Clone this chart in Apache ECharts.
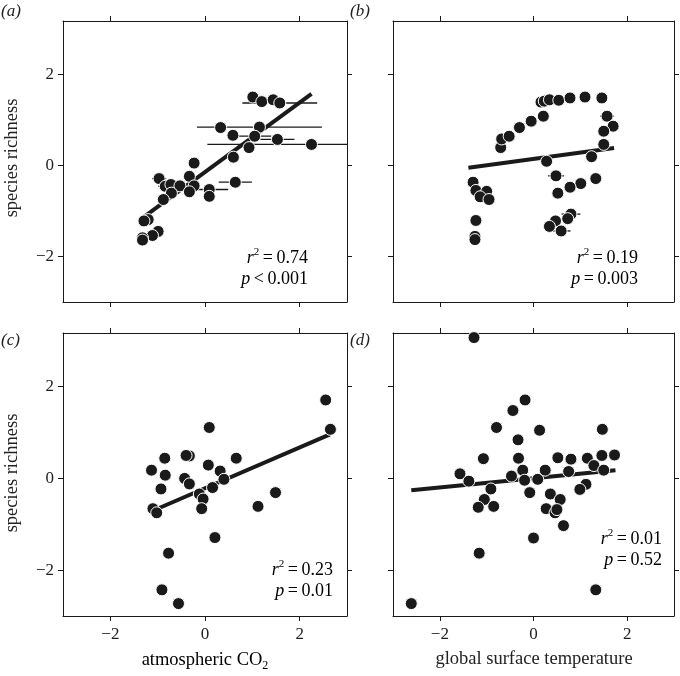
<!DOCTYPE html>
<html>
<head>
<meta charset="utf-8">
<script src="https://cdn.jsdelivr.net/npm/echarts@6/dist/echarts.min.js"></script>
<style>
  html, body { margin: 0; padding: 0; background: #fff; }
  #main { width: 680px; height: 676px; }
</style>
</head>
<body>
<div id="main"></div>
<script>
// (a) species richness vs atmospheric CO2 (with horizontal error bars)
var aX = [1.01, 1.20, 1.44, 1.58, 0.33, 1.15, 0.59, 1.05, 1.53, 2.25, 0.93, 0.60, -0.23, -0.97, -0.33, -0.84,
  -0.72, -0.53, -0.23, -0.71, -0.33, 0.09, 0.09, 0.64, -0.88, -1.20, -1.29, -0.99, -1.11, -1.32, -1.32];
var aY = [1.50, 1.40, 1.44, 1.37, 0.83, 0.84, 0.66, 0.64, 0.57, 0.46, 0.39, 0.18, 0.05, -0.29, -0.24, -0.46,
  -0.42, -0.45, -0.45, -0.61, -0.58, -0.53, -0.68, -0.37, -0.75, -1.19, -1.22, -1.45, -1.54, -1.59, -1.64];
var aErr = [0, 0, 0, 0.79, 0, 1.32, 0, 0.35, 0.36, 2.2, 0, 0, 0, 0.15, 0, 0.15,
  0, 0, 0.12, 0.12, 0, 0.4, 0, 0.35, 0.12, 0, 0, 0, 0, 0, 0];

// (b) species richness vs global surface temperature (with error bars)
var bX = [-0.70, -0.68, -0.52, -0.30, -0.05, 0.21, 0.16, 0.23, 0.34, 0.54, 0.78, 1.10, 1.46, 1.57, 1.70, 1.50,
  1.50, 1.24, 0.28, 0.48, 1.33, 1.01, 0.78, 0.52, -1.29, -1.23, -1.00, -1.14, -0.95, -1.23, -1.25, -1.25,
  0.80, 0.73, 0.47, 0.34, 0.59];
var bY = [0.39, 0.58, 0.64, 0.83, 0.97, 1.08, 1.39, 1.41, 1.44, 1.43, 1.48, 1.50, 1.48, 1.08, 0.86, 0.75,
  0.46, 0.19, 0.09, -0.23, -0.29, -0.40, -0.48, -0.61, -0.37, -0.55, -0.57, -0.69, -0.75, -1.21, -1.56, -1.63,
  -1.07, -1.17, -1.22, -1.34, -1.44];
var bErr = [0, 0, 0, 0, 0, 0, 0, 0, 0, 0, 0, 0, 0, 0.15, 0.08, 0,
  0, 0, 0, 0.17, 0, 0, 0, 0, 0.1, 0, 0, 0, 0, 0, 0, 0,
  0.2, 0, 0, 0, 0.2];

// (c) detrended, vs atmospheric CO2
var cX = [2.55, 2.65, 0.09, -0.85, -0.33, -0.40, 0.66, 0.07, -1.13, -0.84, 0.32, -0.43, -0.33, 0.40, -0.93,
  0.16, -0.12, -0.04, 1.49, 1.12, -0.07, -1.10, -1.02, 0.21, -0.77, -0.91, -0.56];
var cY = [1.71, 1.07, 1.11, 0.44, 0.49, 0.50, 0.44, 0.29, 0.18, 0.07, 0.16, 0.00, -0.12, -0.02, -0.23,
  -0.20, -0.34, -0.45, -0.31, -0.61, -0.66, -0.66, -0.75, -1.29, -1.63, -2.43, -2.73];

// (d) detrended, vs global surface temperature
var dX = [-1.27, -0.18, -0.44, -0.79, 0.13, 1.47, -0.33, -1.07, -0.32, 0.52, 0.80, 1.15, 1.46, 1.73, 1.29,
  -1.57, -1.38, -0.47, -0.23, -0.19, 0.09, 0.25, 0.75, 1.50, 1.12, 0.99, -0.91, -0.08, 0.36, 0.57, -1.05,
  -1.18, -0.85, 0.27, 0.46, 0.50, 0.64, 0.00, -1.16, 1.33, -2.61];
var dY = [3.07, 1.71, 1.48, 1.11, 1.05, 1.07, 0.84, 0.43, 0.44, 0.45, 0.42, 0.44, 0.50, 0.51, 0.28,
  0.10, -0.06, 0.05, 0.18, -0.04, -0.02, 0.18, 0.15, 0.18, -0.13, -0.24, -0.23, -0.31, -0.34, -0.46, -0.46,
  -0.63, -0.61, -0.66, -0.75, -0.68, -1.03, -1.30, -1.63, -2.43, -2.73];

// fitted regression lines (end points)
var fitA = [[-1.29, -1.13], [2.25, 1.57]];
var fitB = [[-1.39, -0.05], [1.72, 0.38]];
var fitC = [[-0.98, -0.65], [2.64, 0.96]];
var fitD = [[-2.61, -0.26], [1.75, 0.18]];

var tickVals = [-2, 0, 2];
var xRange = [-3, 3];
var yRange = [-3, 3.17];

var serif = 'Liberation Serif';
var ink = '#1a1a1a';

var grids = [
  { left: 63, top: 21, width: 284, height: 281 },
  { left: 393, top: 21, width: 281, height: 281 },
  { left: 63, top: 333, width: 284, height: 283 },
  { left: 393, top: 333, width: 281, height: 283 }
];

function minus(v) { return String(v).replace('-', '\u2212'); }

var xAxes = [], yAxes = [];
grids.forEach(function (g, i) {
  var labX = i >= 2, labY = i % 2 === 0;
  ['bottom', 'top'].forEach(function (pos) {
    xAxes.push({
      gridIndex: i, type: 'value', position: pos, min: xRange[0], max: xRange[1],
      axisLine: { show: true, onZero: false, lineStyle: { color: ink, width: 1 } },
      axisTick: { show: true, length: 5, customValues: tickVals, lineStyle: { color: ink } },
      axisLabel: {
        show: labX && pos === 'bottom', customValues: tickVals, margin: 10, formatter: minus,
        fontFamily: serif, fontSize: 17, color: '#222'
      },
      splitLine: { show: false }
    });
  });
  ['left', 'right'].forEach(function (pos) {
    yAxes.push({
      gridIndex: i, type: 'value', position: pos, min: yRange[0], max: yRange[1],
      axisLine: { show: true, onZero: false, lineStyle: { color: ink, width: 1 } },
      axisTick: { show: true, length: 5, customValues: tickVals, lineStyle: { color: ink } },
      axisLabel: {
        show: labY && pos === 'left', customValues: tickVals, margin: 9, formatter: minus,
        fontFamily: serif, fontSize: 17, color: '#222'
      },
      splitLine: { show: false }
    });
  });
});

function zip(xs, ys) {
  return xs.map(function (x, k) { return [x, ys[k]]; });
}
function errData(xs, ys, es) {
  var out = [];
  xs.forEach(function (x, k) { if (es[k] > 0) out.push([x, ys[k], es[k]]); });
  return out;
}
function renderErr(params, api) {
  var x = api.value(0), y = api.value(1), e = api.value(2);
  var p0 = api.coord([x - e, y]);
  var p1 = api.coord([x + e, y]);
  return {
    type: 'line',
    shape: { x1: p0[0], y1: p0[1], x2: p1[0], y2: p1[1] },
    style: { stroke: ink, lineWidth: 1.3 }
  };
}

var panels = [
  { pts: zip(aX, aY), err: errData(aX, aY, aErr), fit: fitA },
  { pts: zip(bX, bY), err: errData(bX, bY, bErr), fit: fitB },
  { pts: zip(cX, cY), err: null, fit: fitC },
  { pts: zip(dX, dY), err: null, fit: fitD }
];

var series = [];
panels.forEach(function (p, i) {
  if (p.err) {
    series.push({
      type: 'custom', xAxisIndex: 2 * i, yAxisIndex: 2 * i, clip: true,
      renderItem: renderErr, data: p.err, z: 1, silent: true
    });
  }
  series.push({
    type: 'line', xAxisIndex: 2 * i, yAxisIndex: 2 * i, data: p.fit,
    showSymbol: false, lineStyle: { color: ink, width: 4 }, z: 2, silent: true
  });
  series.push({
    type: 'scatter', xAxisIndex: 2 * i, yAxisIndex: 2 * i, data: p.pts,
    symbolSize: 12, itemStyle: { color: ink, borderColor: '#fff', borderWidth: 1, opacity: 1 }, z: 3
  });
});

function statText(x, y, r2, pOp, pVal) {
  var rich = {
    i: { fontFamily: serif, fontStyle: 'italic', fontSize: 18, lineHeight: 22, color: '#222' },
    n: { fontFamily: serif, fontSize: 18, lineHeight: 22, color: '#222' },
    s: { fontFamily: serif, fontSize: 11, lineHeight: 13, verticalAlign: 'top', color: '#222' }
  };
  return [
    { type: 'text', right: 680 - x, top: y - 11, style: { text: '{i|r}{s|2}{n|\u2009=\u2009' + r2 + '}', rich: rich } },
    { type: 'text', right: 680 - x, top: y + 12, style: { text: '{i|p}{n|\u2009' + pOp + '\u2009' + pVal + '}', rich: rich } }
  ];
}

function letter(t, x, y) {
  return {
    type: 'text', left: x, top: y,
    style: { text: t, fontFamily: serif, fontStyle: 'italic', fontSize: 17, fill: '#222' }
  };
}

var graphics = [
  letter('(a)', 1, 3), letter('(b)', 350, 3), letter('(c)', 1, 332), letter('(d)', 350, 332),
  {
    type: 'text', x: 3, y: 158, rotation: Math.PI / 2,
    style: { text: 'species richness', fontFamily: serif, fontSize: 18.5, fill: '#222', align: 'center', verticalAlign: 'top' }
  },
  {
    type: 'text', x: 3, y: 473, rotation: Math.PI / 2,
    style: { text: 'species richness', fontFamily: serif, fontSize: 18.5, fill: '#222', align: 'center', verticalAlign: 'top' }
  },
  {
    type: 'text', x: 205, y: 648,
    style: {
      text: '{n|atmospheric CO}{s|2}', align: 'center',
      rich: {
        n: { fontFamily: serif, fontSize: 18.5, lineHeight: 24, color: '#222' },
        s: { fontFamily: serif, fontSize: 12, lineHeight: 16, verticalAlign: 'bottom', color: '#222' }
      }
    }
  },
  {
    type: 'text', x: 534, y: 650,
    style: { text: 'global surface temperature', fontFamily: serif, fontSize: 18.5, fill: '#222', align: 'center' }
  }
];
graphics = graphics
  .concat(statText(308, 258, '0.74', '<', '0.001'))
  .concat(statText(638, 258, '0.19', '=', '0.003'))
  .concat(statText(333, 570, '0.23', '=', '0.01'))
  .concat(statText(662, 539, '0.01', '=', '0.52'));

var myChart = echarts.init(document.getElementById('main'));
var option = {
  animation: false,
  backgroundColor: '#fff',
  grid: grids,
  xAxis: xAxes,
  yAxis: yAxes,
  series: series,
  graphic: graphics
};
option && myChart.setOption(option);
</script>
</body>
</html>
